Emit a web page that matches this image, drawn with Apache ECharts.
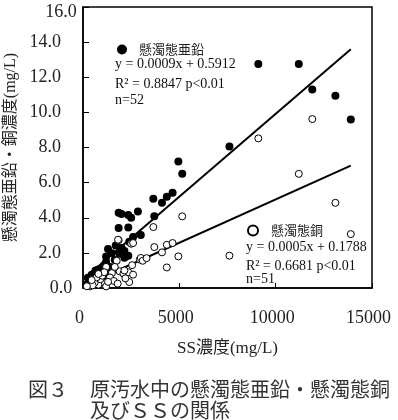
<!DOCTYPE html>
<html>
<head>
<meta charset="utf-8">
<script src="https://cdn.jsdelivr.net/npm/echarts@6/dist/echarts.min.js"></script>
<style>
  html, body { margin: 0; padding: 0; background: #fff; }
  #chart { width: 398px; height: 420px; }
</style>
</head>
<body>
<div id="chart"></div>
<script>
// 懸濁態亜鉛 [SS mg/L, Zn mg/L]
var zincPoints = [
  [9100, 12.76], [11200, 12.76], [11900, 11.3], [13100, 10.95], [13900, 9.6],
  [7600, 8.06], [4950, 7.2], [5150, 6.5], [4650, 5.42], [4350, 5.2],
  [4100, 4.85], [3650, 5.08], [3700, 4.08], [2850, 4.35], [2500, 4.0],
  [2350, 4.15], [2000, 4.22], [1850, 4.28], [1850, 3.42], [2350, 3.45],
  [2600, 2.9], [3000, 3.02], [1300, 2.22], [1700, 2.42], [2000, 2.28],
  [2150, 2.1], [1200, 1.8], [1500, 1.98], [1900, 1.95], [2350, 1.84],
  [2150, 1.72], [1050, 1.15], [800, 1.05], [600, 0.85], [450, 0.75],
  [250, 0.58], [900, 0.95], [180, 0.2], [350, 0.4], [1100, 1.3],
  [700, 0.7], [1300, 1.05], [950, 0.8], [500, 0.5], [1200, 1.5],
  [300, 0.3], [650, 1.0], [1650, 1.6], [1400, 1.2], [2400, 2.64],
  [1100, 0.65], [550, 0.55]
];
// 懸濁態銅 [SS mg/L, Cu mg/L]
var copperPoints = [
  [11200, 6.5], [13100, 4.85], [13900, 3.07], [9100, 8.52], [11900, 9.62],
  [5150, 4.08], [3650, 3.47], [3700, 2.33], [4350, 2.46], [4650, 2.56],
  [4100, 2.03], [4950, 1.8], [7600, 1.84], [4350, 1.17], [1850, 2.72],
  [2500, 2.52], [1750, 1.55], [2950, 1.62], [3000, 1.71], [1900, 0.95],
  [2100, 0.82], [2350, 0.9], [2600, 0.76], [2400, 0.34], [1200, 1.2],
  [1500, 0.85], [1050, 0.32], [800, 0.19], [350, 0.09], [1200, 0.09],
  [2600, 2.56], [600, 0.3], [900, 0.5], [500, 0.15], [1400, 0.6],
  [1600, 0.4], [700, 0.6], [1000, 0.7], [200, 0.1], [1300, 0.35],
  [2150, 1.0], [1650, 1.2], [3100, 1.55], [2550, 1.3], [450, 0.45],
  [1800, 0.25], [2200, 0.55], [1100, 0.9], [800, 0.8], [3300, 1.7],
  [1820, 2.75]
];
// regression lines, end points
var zincFit = [[180, 0.66], [13900, 13.6]];
var copperFit = [[180, 0.2], [13900, 6.97]];

var zincText = ["y = 0.0009x + 0.5912", "R² = 0.8847 p<0.01", "n=52"];
var copperText = ["y = 0.0005x + 0.1788", "R² = 0.6681 p<0.01", "n=51"];
var captionText = ["図３", "原汚水中の懸濁態亜鉛・懸濁態銅", "及びＳＳの関係"];

var serif = "'Liberation Serif', 'Noto Sans CJK JP'";
var jp = "'Noto Sans CJK JP'";

var chart = echarts.init(document.getElementById("chart"));

function eqText(str, x, y) {
  return {
    type: "text",
    left: x, top: y,
    style: { text: str, font: "14px " + serif, fill: "#111" }
  };
}

var option = {
  animation: false,
  backgroundColor: "#fff",
  grid: {
    left: 83, right: 26, top: 7, bottom: 132,
    outerBoundsMode: "none",
    containLabel: false,
    show: true, borderColor: "#000", borderWidth: 1.5
  },
  xAxis: {
    type: "value",
    min: 0, max: 15000, interval: 5000,
    name: "SS濃度(mg/L)",
    nameLocation: "middle",
    nameGap: 52,
    nameTextStyle: { fontFamily: serif, fontSize: 17, color: "#222" },
    axisLine: { lineStyle: { color: "#000", width: 1.5 } },
    axisTick: { inside: true, length: 5, lineStyle: { color: "#000" } },
    axisLabel: {
      fontFamily: serif, fontSize: 18, color: "#222", margin: 21,
      padding: [0, 7, 0, 0],
      alignMinLabel: "center", alignMaxLabel: "center",
      formatter: function (v) { return String(v); }
    },
    splitLine: { show: false }
  },
  yAxis: {
    type: "value",
    min: 0, max: 16, interval: 2,
    name: "懸濁態亜鉛・銅濃度(mg/L)",
    nameLocation: "middle",
    nameGap: 64,
    nameTextStyle: { fontFamily: serif, fontSize: 16, color: "#222" },
    axisLine: { lineStyle: { color: "#000", width: 1.5 } },
    axisTick: { inside: true, length: 6, lineStyle: { color: "#000" } },
    axisLabel: {
      fontFamily: serif, fontSize: 18, color: "#222", margin: 22,
      lineHeight: 10,
      alignMinLabel: "center", alignMaxLabel: "center",
      verticalAlignMaxLabel: "top",
      formatter: function (v) { return v.toFixed(1); }
    },
    splitLine: { show: false }
  },
  legend: [
    {
      data: [{ name: "懸濁態亜鉛", icon: "circle" }],
      left: 117, top: 43, padding: 0,
      itemWidth: 10, itemHeight: 10, itemGap: 0,
      textStyle: { fontFamily: jp, fontSize: 13, color: "#222", padding: [0, 0, 0, 7] }
    },
    {
      data: [{ name: "懸濁態銅", icon: "circle" }],
      left: 247, top: 224, padding: 0,
      itemWidth: 10, itemHeight: 10, itemGap: 0,
      textStyle: { fontFamily: jp, fontSize: 13, color: "#222", padding: [0, 0, 0, 8] }
    }
  ],
  graphic: [
    eqText(zincText[0], 115, 57),
    eqText(zincText[1], 115, 77),
    eqText(zincText[2], 115, 93),
    eqText(copperText[0], 246, 240),
    eqText(copperText[1], 246, 259),
    eqText(copperText[2], 246, 272),
    {
      type: "text", left: 28, top: 379,
      style: { text: captionText[0], font: "20px " + jp, fill: "#333" }
    },
    {
      type: "text", left: 90, top: 379,
      style: { text: captionText[1], font: "20px " + jp, fill: "#333" }
    },
    {
      type: "text", left: 90, top: 400,
      style: { text: captionText[2], font: "20px " + jp, fill: "#333" }
    }
  ],
  series: [
    {
      name: "懸濁態亜鉛",
      type: "scatter",
      data: zincPoints,
      symbol: "circle",
      symbolSize: 8,
      itemStyle: { color: "#000", opacity: 1 },
      z: 3
    },
    {
      name: "懸濁態銅",
      type: "scatter",
      data: copperPoints,
      symbol: "circle",
      symbolSize: 7,
      itemStyle: { color: "#fff", borderColor: "#000", borderWidth: 1, opacity: 1 },
      z: 4
    },
    {
      type: "line",
      data: zincFit,
      showSymbol: false,
      lineStyle: { color: "#000", width: 2 },
      silent: true,
      z: 2
    },
    {
      type: "line",
      data: copperFit,
      showSymbol: false,
      lineStyle: { color: "#000", width: 2 },
      silent: true,
      z: 2
    }
  ]
};

chart.setOption(option);
</script>
</body>
</html>
